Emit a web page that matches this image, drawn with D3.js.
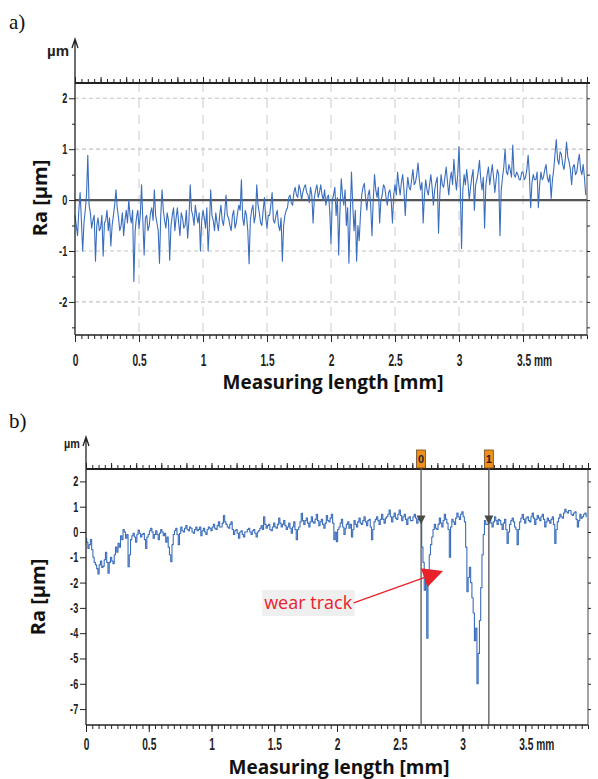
<!DOCTYPE html>
<html>
<head>
<meta charset="utf-8">
<script src="https://cdn.jsdelivr.net/npm/d3@7"></script>
<style>
  body { margin: 0; background: #fff; }
  svg { display: block; }
  .tick-label { font-family: "Liberation Sans Narrow", "Arial Narrow", sans-serif; font-weight: 700; fill: #222; }
  .axis-title { font-family: "Open Sans", sans-serif; font-weight: 700; fill: #111; }
  .panel-tag { font-family: "Liberation Serif", "Times New Roman", serif; font-size: 21px; fill: #111; }
</style>
</head>
<body>
<svg id="chart" width="598" height="779"></svg>
<script>
// measuring length axis (mm)
var xDomain = [0, 4];
var xTicks = [0, 0.5, 1, 1.5, 2, 2.5, 3, 3.5];

// a) profile, sampled every 0.01 mm (um)
var stepA = 0.01;
var profileA = [
  -0.3, -0.5, -0.7, -0.2, 0.15, -0.4, -1.0, -0.45, -0.2, 0.1,
  0.88, -0.1, -0.25, -0.55, -0.4, -0.3, -1.2, -0.5, -0.35, -0.6,
  -0.55, -0.3, -1.1, -0.45, -0.4, -0.2, -0.6, -0.35, -0.9, -0.5,
  -0.3, -0.1, 0.2, -0.15, -0.35, -0.6, -0.5, -0.25, -0.7, -0.4,
  -0.2, -0.45, 0.0, -0.3, -0.45, -0.2, -1.6, -0.6, -0.35, -0.2,
  -0.55, -0.3, 0.3, -0.4, -1.08, -0.35, -0.3, -0.6, -0.5, -0.25,
  -0.15, -0.4, 0.2, -0.3, -0.45, -0.6, -1.24, -0.3, 0.2, -0.2,
  -0.4, -0.55, -0.25, -0.4, -1.18, -0.5, -0.3, -0.15, -0.6, -0.35,
  -0.15, -0.45, -0.7, -0.25, -0.35, -0.55, -0.5, -0.2, -0.75, -0.4,
  0.3, -0.2, -0.3, -0.5, -0.1, -0.3, -0.45, -0.25, -1.0, -0.4,
  -0.2, -0.35, -0.55, -0.15, -1.0, -0.5, 0.2, -0.3, -0.4, -0.6,
  -0.25, -0.45, -0.6, -0.3, -0.1, -0.4, -0.5, -0.25, 0.1, -0.3,
  -0.35, -0.5, -0.6, -0.3, -0.2, -0.55, -0.45, -0.25, -0.1, -0.2,
  0.4, -0.35, -0.5, -0.2, -0.3, -0.6, -1.25, -0.4, -0.2, -0.1,
  -0.45, -0.3, 0.3, -0.1, -0.25, -0.45, -0.5, -0.2, 0.05, -0.35,
  -0.55, -0.3, -0.3, -0.1, 0.15, -0.4, -0.45, -0.3, -0.2, -0.5,
  -0.6, -0.35, -1.2, -0.5, -0.3, -0.2, -0.15, 0.05, 0.1, -0.05,
  -0.1, 0.15, 0.25, 0.1, 0.05, 0.3, 0.2, 0.0, 0.15, 0.25,
  0.3, 0.15, 0.1, -0.05, 0.25, 0.1, -0.45, 0.05, 0.2, 0.3,
  0.05, 0.15, 0.3, 0.1, 0.0, 0.2, -0.1, 0.05, 0.1, -0.2,
  -0.85, 0.0, 0.1, 0.25, -0.3, 0.05, -1.08, -0.2, 0.42, 0.1,
  -0.1, 0.2, -0.5, -0.15, -1.24, -0.3, 0.55, -0.1, -0.6, -0.2,
  -1.2, -0.5, -0.8, -0.3, 0.1, 0.25, 0.33, 0.05, -0.2, 0.1,
  0.2, -0.1, -0.7, 0.0, 0.5, 0.2, 0.05, 0.25, -0.45, 0.0,
  0.1, 0.3, 0.25, 0.05, -0.1, 0.15, 0.2, 0.0, -0.45, 0.1,
  0.3, 0.1, 0.55, 0.3, 0.1, 0.35, 0.5, 0.2, -0.3, 0.15,
  0.45, 0.25, 0.2, 0.4, 0.6, 0.3, 0.35, 0.5, 0.73, 0.4,
  0.2, 0.35, -0.45, 0.1, 0.4, 0.2, 0.1, 0.3, 0.5, 0.25,
  -0.1, 0.2, 0.35, 0.45, -0.65, 0.1, 0.5, 0.3, 0.25, 0.45,
  0.65, 0.35, 0.1, 0.4, 0.55, 0.3, 0.8, 0.45, 0.2, 0.5,
  1.05, 0.3, -0.95, 0.2, 0.5, 0.3, 0.6, 0.35, 0.0, 0.25,
  0.45, 0.6, -0.2, 0.3, 0.4, 0.55, 0.78, 0.4, 0.2, 0.45,
  -0.55, 0.3, 0.5, 0.65, 0.3, 0.5, 0.7, 0.45, 0.15, 0.4,
  0.6, 0.5, -0.7, 0.2, 0.45, 0.65, 1.0, 0.55, 0.5, 0.7,
  0.6, 0.45, 1.08, 0.5, 0.45, 0.55, 0.5, 0.4, 0.4, 0.55,
  0.55, 0.4, 0.45, 0.6, 0.88, 0.5, -0.15, 0.35, 0.5, 0.4,
  0.4, 0.55, -0.15, 0.3, 0.55, 0.4, 0.45, 0.6, 0.7, 0.45,
  0.35, 0.5, 0.03, 0.4, 0.6, 0.9, 1.19, 0.8, 0.7, 0.95,
  0.9, 0.7, 0.6, 0.8, 1.14, 0.85, 0.75, 0.6, 0.3, 0.65,
  0.7, 0.5, 0.55, 0.75, 0.9, 0.6, 0.5, 0.7, 0.45, 0.1
];
var yDomainA = [-2.65, 2.3];
var yTicksA = [-2, -1, 0, 1, 2];
var yMinorA = [-2.5, -1.5, -0.5, 0.5, 1.5];
var yRightA = [-2.5, -2, -1.5, -1, -0.5, 0, 0.5, 1, 1.5, 2];

// b) profile across the wear track, sampled every 0.01 mm (um)
var stepB = 0.01;
var profileB = [
  -0.25, -0.4, -0.65, -0.5, -0.3, -0.7, -1.0, -1.2, -1.3, -1.45,
  -1.66, -1.3, -1.15, -1.4, -1.35, -1.1, -0.8, -1.2, -1.63, -1.2,
  -1.0, -1.15, -1.25, -0.9, -0.6, -0.8, -0.45, -0.6, -0.15, -0.3,
  0.1, 0.0, -0.25, -0.1, -1.37, -0.9, -0.3, -0.15, -0.05, -0.2,
  -0.4, -0.1, 0.08, -0.05, -0.2, -0.1, -0.05, -0.3, -0.65, -0.2,
  -0.1, 0.05, 0.15, 0.0, -0.25, -0.1, 0.05, -0.1, -0.3, -0.05,
  0.1, 0.0, -0.15, -0.05, -0.4, -0.2, -0.6, -0.9, -1.17, -0.5,
  -0.1, 0.05, 0.15, -0.1, -0.5, -0.05, 0.2, 0.05, 0.0, 0.15,
  0.25, 0.1, 0.05, 0.2, 0.15, 0.0, -0.05, 0.1, 0.2, 0.05,
  0.1, 0.2, -0.15, 0.05, 0.15, 0.0, -0.1, 0.1, 0.2, 0.15,
  0.05, 0.2, 0.3, 0.15, 0.1, 0.25, 0.4, 0.2, 0.2, 0.35,
  0.65, 0.4, 0.3, 0.2, 0.15, 0.3, 0.4, 0.1, -0.1, 0.05,
  0.1, -0.05, -0.25, 0.0, 0.05, -0.1, -0.2, 0.0, 0.0, 0.1,
  0.15, 0.0, -0.1, 0.05, 0.1, -0.05, -0.2, 0.0, 0.05, 0.15,
  0.25, 0.1, 0.6, 0.3, 0.15, 0.25, 0.3, 0.1, 0.05, 0.2,
  0.35, 0.2, 0.15, 0.3, 0.55, 0.35, 0.2, 0.3, 0.45, 0.25,
  0.1, 0.2, 0.35, 0.15, -0.05, 0.2, 0.4, 0.1, -0.3, 0.1,
  0.2, 0.4, 0.74, 0.45, 0.3, 0.45, 0.55, 0.35, 0.2, 0.4,
  0.6, 0.4, 0.35, 0.5, 0.7, 0.45, 0.25, 0.4, 0.5, 0.3,
  0.15, 0.35, 0.65, 0.45, 0.4, 0.55, 0.7, 0.35, -0.3, 0.0,
  -0.38, 0.1, 0.2, 0.35, 0.5, 0.2, -0.1, 0.15, 0.3, 0.4,
  0.15, 0.3, -0.2, 0.1, 0.45, 0.3, 0.2, 0.4, 0.55, 0.35,
  0.3, 0.45, 0.6, 0.4, 0.25, 0.45, 0.5, 0.2, -0.3, 0.1,
  0.4, 0.5, 0.6, 0.45, 0.3, 0.5, 0.7, 0.5, 0.35, 0.55,
  0.6, 0.7, 0.87, 0.6, 0.4, 0.6, 0.75, 0.55, 0.5, 0.7,
  0.87, 0.65, 0.45, 0.6, 0.7, 0.5, 0.3, 0.55, 0.6, 0.45,
  0.45, 0.6, 0.7, 0.55, 0.35, 0.5, 0.55, 0.4, -0.6, -1.2,
  -2.3, -1.5, -4.2, -2.0, -0.9, -0.5, -0.2, 0.1, 0.3, 0.15,
  0.1, 0.3, 0.55, 0.35, 0.2, 0.45, 0.7, 0.5, 0.35, 0.1,
  -1.0, 0.2, 0.5, 0.4, 0.3, 0.55, 0.75, 0.6, 0.5, 0.7,
  0.8, 0.6, 0.4, -0.6, -2.36, -1.8, -1.4, -2.0, -2.6, -3.2,
  -4.3, -3.8, -6.0, -4.8, -3.5, -2.2, -0.9, -0.1, 0.45, 0.3,
  0.3, 0.45, 0.5, 0.35, 0.2, 0.4, 0.6, 0.45, 0.3, 0.5,
  0.45, 0.3, 0.1, 0.35, 0.5, 0.1, -0.45, 0.0, 0.3, 0.45,
  0.55, 0.4, 0.2, 0.1, -0.5, 0.1, 0.4, 0.55, 0.7, 0.5,
  0.35, 0.55, 0.6, 0.45, 0.4, 0.6, 0.75, 0.55, 0.3, 0.5,
  0.65, 0.55, 0.45, 0.6, 0.7, 0.5, 0.2, 0.4, 0.55, 0.45,
  0.35, 0.5, 0.6, 0.3, -0.45, 0.1, 0.4, 0.55, 0.7, 0.6,
  0.55, 0.75, 0.9, 0.8, 0.75, 0.85, 0.85, 0.7, 0.65, 0.75,
  0.8, 0.5, 0.2, 0.45, 0.7, 0.55, 0.6, 0.7, 0.75, 0.6
];
var yDomainB = [-7.63, 2.49];
var yTicksB = [2, 1, 0, -1, -2, -3, -4, -5, -6, -7];

// cursors placed on the wear track edges (mm) and the level of their handles (um)
var markerLabels = ["0", "1"];
var markerPositions = [2.67, 3.21];
var markerLevel = 0.45;

var annotationText = "wear track";
var annotationAt = [1.77, -2.8];    // [mm, um]
var annotationTip = [2.845, -1.54]; // [mm, um]

var svg = d3.select('#chart');

var panelA = {
  tag: 'a)', tagY: 29,
  left: 75, right: 587, top: 83, bottom: 335,
  yDomain: yDomainA, yTicks: yTicksA, yMinor: yMinorA, yRight: yRightA,
  values: profileA, step: stepA, curve: d3.curveLinear,
  grid: true, zeroLine: true,
  arrowTip: 39, unitX: 58, unitY: 56, unitSize: 15, unitScale: 1.0,
  xLabelY: 19, xLabelSize: 17, yLabelSize: 14,
  raX: 40, raY: 198, titleY: 389
};

var panelB = {
  tag: 'b)', tagY: 428,
  left: 86, right: 588, top: 469, bottom: 725,
  yDomain: yDomainB, yTicks: yTicksB, yMinor: [], yRight: yTicksB,
  values: profileB, step: stepB, curve: d3.curveStep,
  grid: false, zeroLine: false,
  arrowTip: 437, unitX: 72, unitY: 448, unitSize: 12, unitScale: 0.9,
  xLabelY: 13, xLabelSize: 17, yLabelSize: 14,
  raX: 38, raY: 597, titleY: 774
};

function styleTicks(sel, size) {
  sel.attr('font-family', null).attr('font-size', null);
  sel.select('.domain').remove();
  sel.selectAll('.tick line').attr('stroke', '#222');
  sel.selectAll('.tick text')
    .attr('class', 'tick-label')
    .style('font-size', size + 'px');
}

function drawPanel(p) {
  var g = svg.append('g');

  //scale
  var x = d3.scaleLinear().domain(xDomain).range([p.left, p.right]);
  var y = d3.scaleLinear().domain(p.yDomain).range([p.bottom, p.top]);

  //grid
  if (p.grid) {
    g.append('g').selectAll('line')
      .data(p.yTicks.filter(d => d !== 0)).enter().append('line')
      .attr('x1', p.left).attr('x2', p.right)
      .attr('y1', d => y(d)).attr('y2', d => y(d))
      .attr('stroke', '#c4c4c4').attr('stroke-width', 1.2)
      .attr('stroke-dasharray', '4,3');
    g.append('g').selectAll('line')
      .data(xTicks.filter(d => d !== 0)).enter().append('line')
      .attr('x1', d => x(d)).attr('x2', d => x(d))
      .attr('y1', p.top).attr('y2', p.bottom)
      .attr('stroke', '#d2d2d2').attr('stroke-width', 1.2)
      .attr('stroke-dasharray', '9,7');
  }
  if (p.zeroLine) {
    g.append('line')
      .attr('x1', p.left).attr('x2', p.right)
      .attr('y1', y(0)).attr('y2', y(0))
      .attr('stroke', '#555').attr('stroke-width', 2.2);
  }

  //profile
  var line = d3.line()
    .x((d, i) => x(i * p.step))
    .y(d => y(d))
    .curve(p.curve);
  g.append('path')
    .datum(p.values)
    .attr('d', line)
    .attr('fill', 'none')
    .attr('stroke', '#3a6ebd')
    .attr('stroke-width', 1.1)
    .attr('stroke-linejoin', 'round');

  //frame
  g.append('line')
    .attr('x1', p.right).attr('x2', p.right).attr('y1', p.top).attr('y2', p.bottom)
    .attr('stroke', '#666').attr('stroke-width', 1.2);
  g.append('line')
    .attr('x1', p.left).attr('x2', p.right + 3).attr('y1', p.top).attr('y2', p.top)
    .attr('stroke', '#222').attr('stroke-width', 2);
  g.append('line')
    .attr('x1', p.left).attr('x2', p.right).attr('y1', p.bottom).attr('y2', p.bottom)
    .attr('stroke', '#222').attr('stroke-width', 1.5);
  g.append('path')
    .attr('d', 'M' + p.left + ',' + p.bottom + 'V' + p.arrowTip +
      'M' + (p.left - 3) + ',' + (p.arrowTip + 9) + 'L' + p.left + ',' + p.arrowTip +
      'L' + (p.left + 3) + ',' + (p.arrowTip + 9))
    .attr('fill', 'none').attr('stroke', '#222').attr('stroke-width', 1.3);

  // top ticks
  var top1 = g.append('g').attr('transform', 'translate(0,' + p.top + ')')
    .call(d3.axisTop(x).tickValues(x.ticks(80)).tickSize(4).tickSizeOuter(0).tickFormat(''));
  styleTicks(top1, 10);
  var top2 = g.append('g').attr('transform', 'translate(0,' + p.top + ')')
    .call(d3.axisTop(x).tickValues(x.ticks(16)).tickSize(6).tickSizeOuter(0).tickFormat(''));
  styleTicks(top2, 10);

  // bottom ticks
  var bot1 = g.append('g').attr('transform', 'translate(0,' + p.bottom + ')')
    .call(d3.axisBottom(x).tickValues(x.ticks(80)).tickSize(4).tickSizeOuter(0).tickFormat(''));
  styleTicks(bot1, 10);
  var bot2 = g.append('g').attr('transform', 'translate(0,' + p.bottom + ')')
    .call(d3.axisBottom(x).tickValues(xTicks).tickSize(7).tickSizeOuter(0)
      .tickFormat(d => d3.format('~g')(d)));
  styleTicks(bot2, p.xLabelSize);
  bot2.selectAll('.tick text')
    .attr('y', p.xLabelY)
    .attr('transform', 'scale(0.6,1)');
  bot2.selectAll('.tick text').filter(d => d === 3.5)
    .attr('text-anchor', 'start')
    .attr('x', -11)
    .text('3.5 mm');

  // left ticks
  var leftMinor = g.append('g').attr('transform', 'translate(' + p.left + ',0)')
    .call(d3.axisLeft(y).tickValues(p.yMinor).tickSize(3).tickSizeOuter(0).tickFormat(''));
  styleTicks(leftMinor, 10);
  var leftMajor = g.append('g').attr('transform', 'translate(' + p.left + ',0)')
    .call(d3.axisLeft(y).tickValues(p.yTicks).tickSize(6).tickSizeOuter(0)
      .tickFormat(d => d < 0 ? '-' + Math.abs(d) : String(d)));
  styleTicks(leftMajor, p.yLabelSize);
  leftMajor.selectAll('.tick text')
    .attr('x', -12)
    .attr('transform', 'scale(0.65,1)');

  // right ticks
  var rightT = g.append('g').attr('transform', 'translate(' + p.right + ',0)')
    .call(d3.axisRight(y).tickValues(p.yRight).tickSize(3).tickSizeOuter(0).tickFormat(''));
  styleTicks(rightT, 10);

  // unit over the arrow
  g.append('text')
    .attr('class', 'tick-label')
    .attr('text-anchor', 'middle')
    .style('font-size', p.unitSize + 'px')
    .attr('transform', 'translate(' + p.unitX + ',' + p.unitY + ') scale(' + p.unitScale + ',1)')
    .text('µm');

  //titles
  g.append('text')
    .attr('class', 'axis-title')
    .attr('transform', 'translate(' + p.raX + ',' + p.raY + ') rotate(-90)')
    .attr('text-anchor', 'middle')
    .attr('dy', '0.35em')
    .style('font-size', '20px')
    .text('Ra [µm]');
  g.append('text')
    .attr('class', 'axis-title')
    .attr('x', (p.left + p.right) / 2 + 2)
    .attr('y', p.titleY)
    .attr('text-anchor', 'middle')
    .style('font-size', '19px')
    .text('Measuring length [mm]');
  g.append('text')
    .attr('class', 'panel-tag')
    .attr('x', 9).attr('y', p.tagY)
    .text(p.tag);

  return {x: x, y: y, g: g};
}

drawPanel(panelA);
var b = drawPanel(panelB);

// cursors of panel b
var cursors = b.g.append('g');
markerPositions.forEach(function(m, i) {
  var cx = b.x(m);
  cursors.append('line')
    .attr('x1', cx).attr('x2', cx)
    .attr('y1', panelB.top - 19).attr('y2', panelB.bottom)
    .attr('stroke', '#555').attr('stroke-width', 1.3);
  cursors.append('rect')
    .attr('x', cx - 4.5).attr('y', panelB.top - 19)
    .attr('width', 9).attr('height', 18)
    .attr('fill', '#f0901c').attr('stroke', '#6b4b1e').attr('stroke-width', 0.8);
  cursors.append('text')
    .attr('class', 'tick-label')
    .attr('x', cx).attr('y', panelB.top - 6)
    .attr('text-anchor', 'middle')
    .style('font-size', '11px')
    .text(markerLabels[i]);
  var cy = b.y(markerLevel);
  cursors.append('path')
    .attr('d', 'M' + (cx - 4.5) + ',' + (cy - 5) + 'L' + (cx + 4.5) + ',' + (cy - 5) + 'L' + cx + ',' + (cy + 4) + 'Z')
    .attr('fill', '#4a4a4a');
});

// wear track annotation
var ann = b.g.append('g');
var annText = ann.append('text')
  .attr('x', b.x(annotationAt[0]))
  .attr('y', b.y(annotationAt[1]))
  .attr('dy', '0.35em')
  .attr('text-anchor', 'middle')
  .style('font-family', '"Open Sans", sans-serif')
  .style('font-size', '18px')
  .attr('fill', '#e8212a')
  .text(annotationText);
var bb = annText.node().getBBox();
ann.insert('rect', 'text')
  .attr('x', bb.x - 2).attr('y', bb.y)
  .attr('width', bb.width + 4).attr('height', bb.height + 2)
  .attr('fill', '#efefef');

var sx = bb.x + bb.width + 1, sy = b.y(annotationAt[1]);
var tx = b.x(annotationTip[0]), ty = b.y(annotationTip[1]);
var dx = tx - sx, dy = ty - sy, len = Math.sqrt(dx * dx + dy * dy);
var ux = dx / len, uy = dy / len;
var headLen = 20, headHalf = 10;
var bx = tx - ux * headLen, by = ty - uy * headLen;
ann.append('line')
  .attr('x1', sx).attr('y1', sy).attr('x2', bx).attr('y2', by)
  .attr('stroke', '#e8212a').attr('stroke-width', 1.3);
ann.append('path')
  .attr('d', 'M' + tx + ',' + ty +
    'L' + (bx - uy * headHalf) + ',' + (by + ux * headHalf) +
    'L' + (bx + uy * headHalf) + ',' + (by - ux * headHalf) + 'Z')
  .attr('fill', '#e8212a');
</script>
</body>
</html>
